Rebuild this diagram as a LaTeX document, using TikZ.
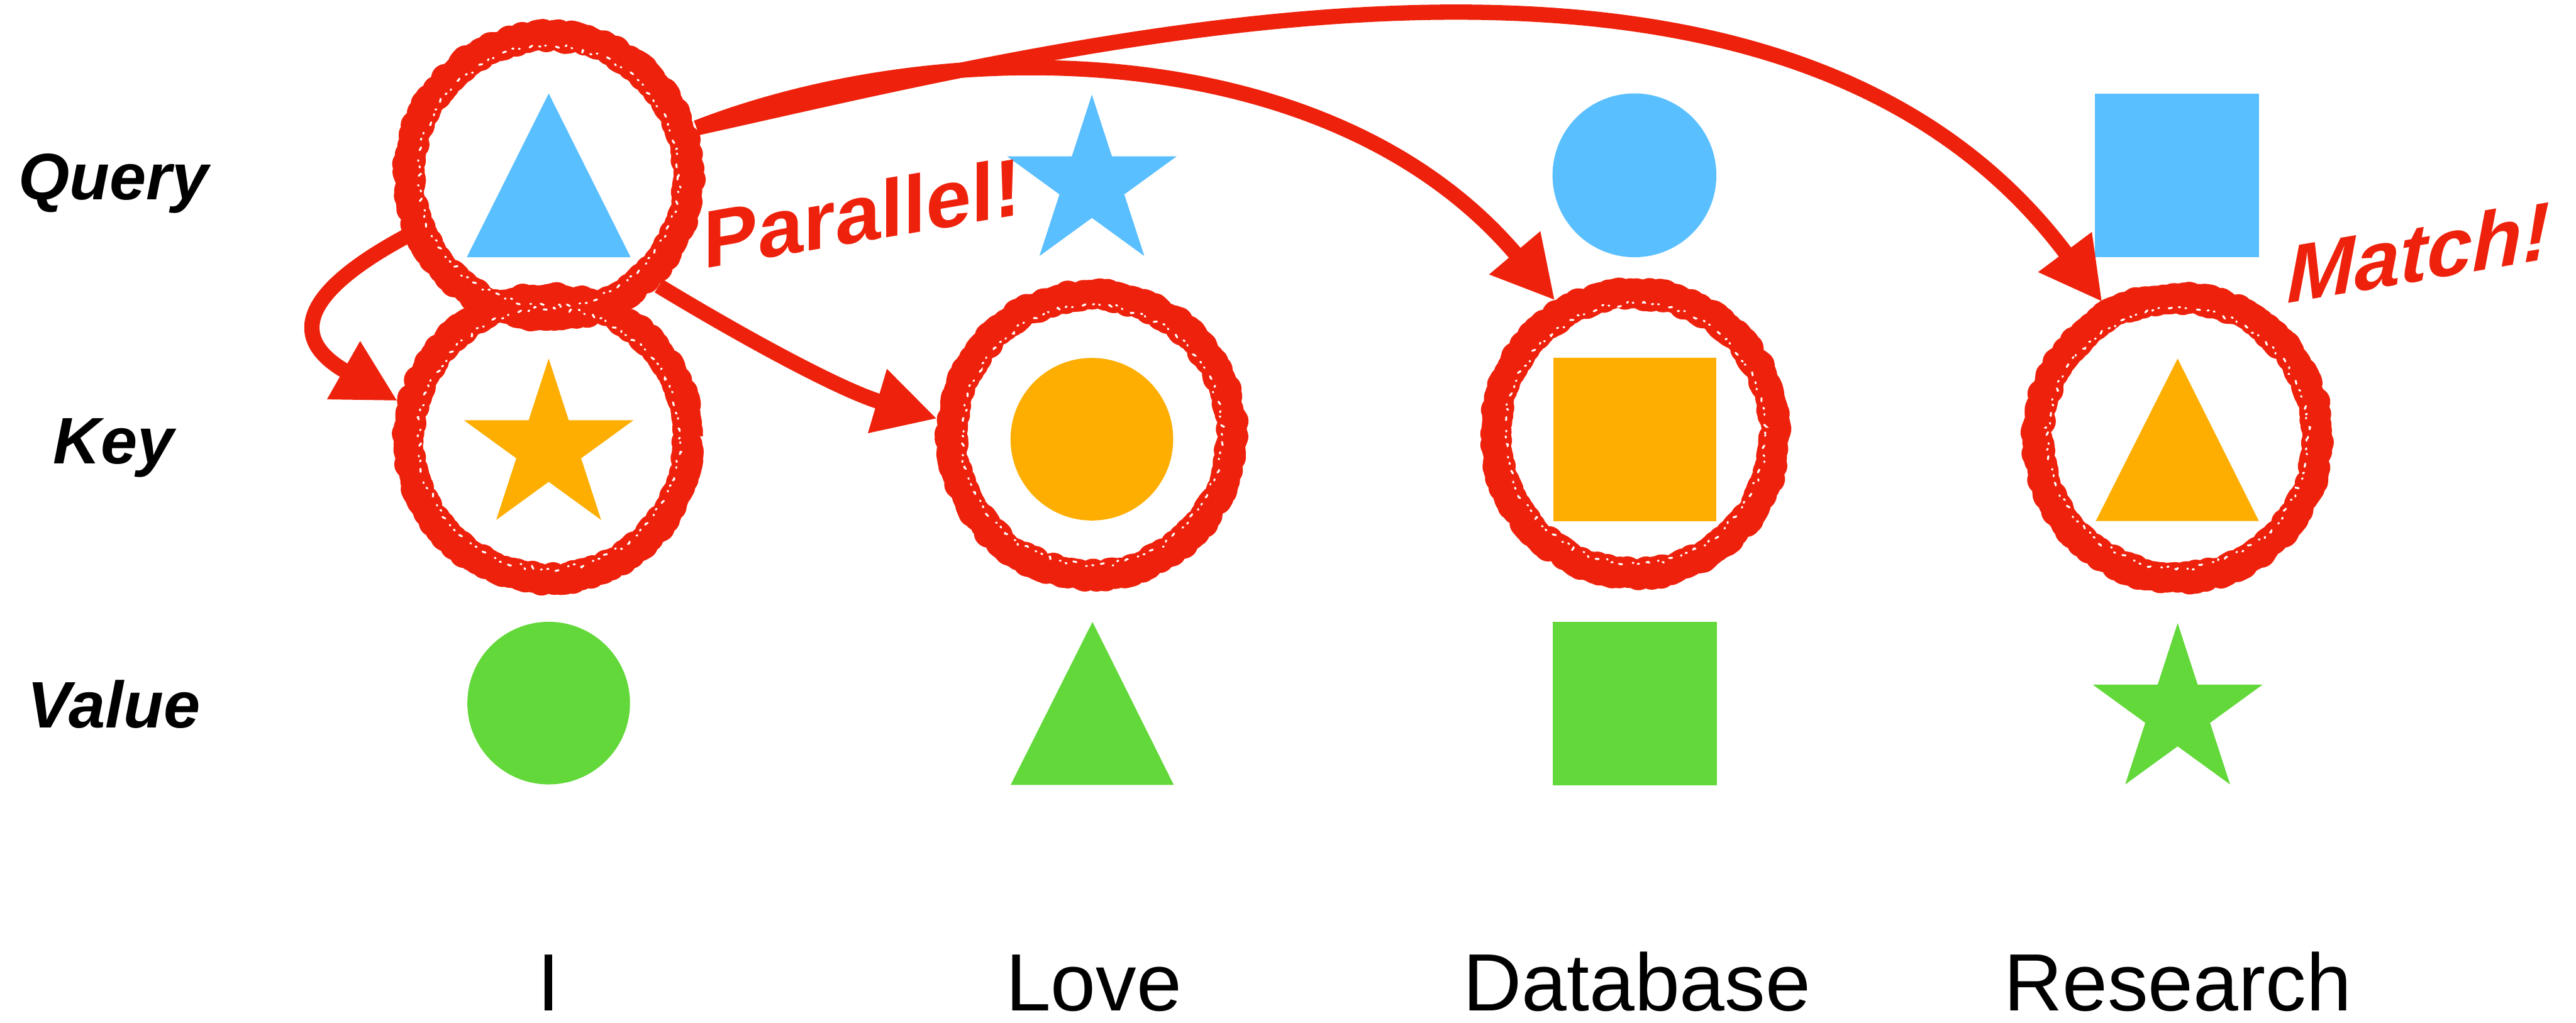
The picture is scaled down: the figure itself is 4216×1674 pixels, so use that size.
\documentclass[tikz,border=0pt]{standalone}
\usepackage{fontspec}
\setmainfont{Liberation Sans}
\usetikzlibrary{arrows.meta,decorations.pathmorphing,calc}
\definecolor{qblue}{HTML}{5ABFFF}
\definecolor{korange}{HTML}{FDAE00}
\definecolor{vgreen}{HTML}{63D83A}
\definecolor{mred}{HTML}{EE220C}
\newcommand{\fivestar}[4]{%
  \fill[#4] ($(#1,#2)+(-90:#3)$)
    \foreach \k in {1,...,9}{ -- ($(#1,#2)+({-90-36*\k}:{#3*(1-0.618*mod(\k,2))})$)} -- cycle;}
\begin{document}
\begin{tikzpicture}[x=0.01cm,y=-0.01cm,
  ring/.style={circle, draw=mred, line width=0.48cm, line join=round, minimum size=4.58cm,
    inner sep=0pt, outer sep=0.254cm, decorate,
    decoration={random steps, segment length=1.6pt, amplitude=1.2pt}},
  speckle/.style={draw=white, line width=0.9pt, line cap=round,
    dash pattern=on 0.6pt off 3.5pt on 1.5pt off 5pt on 0.4pt off 2.5pt,
    decorate, decoration={random steps, segment length=2pt, amplitude=1.2pt}},
  link/.style={draw=mred, line width=0.25cm, -{Triangle[length=1.02cm,width=1.02cm]}},
  rowlabel/.style={font=\fontsize{30.6pt}{31pt}\selectfont\bfseries\itshape, anchor=base, inner sep=0pt},
  word/.style={font=\fontsize{37.8pt}{38pt}\selectfont, anchor=base, inner sep=0pt},
  shout/.style={font=\fontsize{38pt}{38pt}\selectfont\bfseries, text=mred, anchor=base west,
    inner sep=0pt, transform shape}
]
\pgfmathsetseed{7}
\path[use as bounding box, fill=white] (0,0) rectangle (4216,1674);

% Query row
\fill[qblue] (898,153) -- (1032,421) -- (764,421) -- cycle;
\fivestar{1787}{301}{146}{qblue}
\fill[qblue] (2675,287) circle[radius=1.34cm];
\fill[qblue] (3429,153) rectangle (3697,421);
% Key row
\fivestar{898}{733}{146}{korange}
\fill[korange] (1787,719) circle[radius=1.33cm];
\fill[korange] (2542,586) rectangle (2809,853);
\fill[korange] (3564,587) -- (3697,853) -- (3430,853) -- cycle;
% Value row
\fill[vgreen] (898,1151) circle[radius=1.33cm];
\fill[vgreen] (1788,1018) -- (1921,1285) -- (1654,1285) -- cycle;
\fill[vgreen] (2541,1018) rectangle (2810,1286);
\fivestar{3564}{1166}{146}{vgreen}

% ring nodes
\node[ring] (rq1) at (898,288) {};
\node[ring] (rk1) at (898,718) {};
\node[ring] (rk2) at (1787,712) {};
\node[ring] (rk3) at (2676,710) {};
\node[ring] (rk4) at (3564,717) {};
\foreach \r in {rq1,rk1,rk2,rk3,rk4}{
  \draw[speckle] (\r.center) circle[radius=2.13cm];
}

% connectors
\draw[link] (rq1.203) .. controls (520,465) and (455,545) .. (rk1.166);
\draw[link] (rq1.-45) .. controls (1230,560) and (1380,640) .. (rk2.174);
\draw[link] (rq1.18) .. controls (1550,50) and (2180,60) .. (rk3.121);
\draw[link] (rq1.18) .. controls (1741,77) and (2900,-230) .. (rk4.119.5);

% labels
\node[rowlabel] (lq) at (186,327) {Query};
\node[rowlabel] (lk) at (186,759) {Key};
\node[rowlabel] (lv) at (186,1191) {Value};
\node[word] (w1) at (898,1655) {I};
\node[word] (w2) at (1790,1655) {Love};
\node[word] (w3) at (2679,1655) {Database};
\node[word] (w4) at (3564,1655) {Research};

\begin{scope}[shift={(1151,440)}, yslant=0.17]
  \node[shout] (par) at (0,0) {Parallel!};
\end{scope}
\begin{scope}[shift={(3742,497)}, yslant=0.17]
  \node[shout, font=\fontsize{38pt}{38pt}\selectfont\bfseries\itshape] (mat) at (0,0) {Match!};
\end{scope}
\end{tikzpicture}
\end{document}
